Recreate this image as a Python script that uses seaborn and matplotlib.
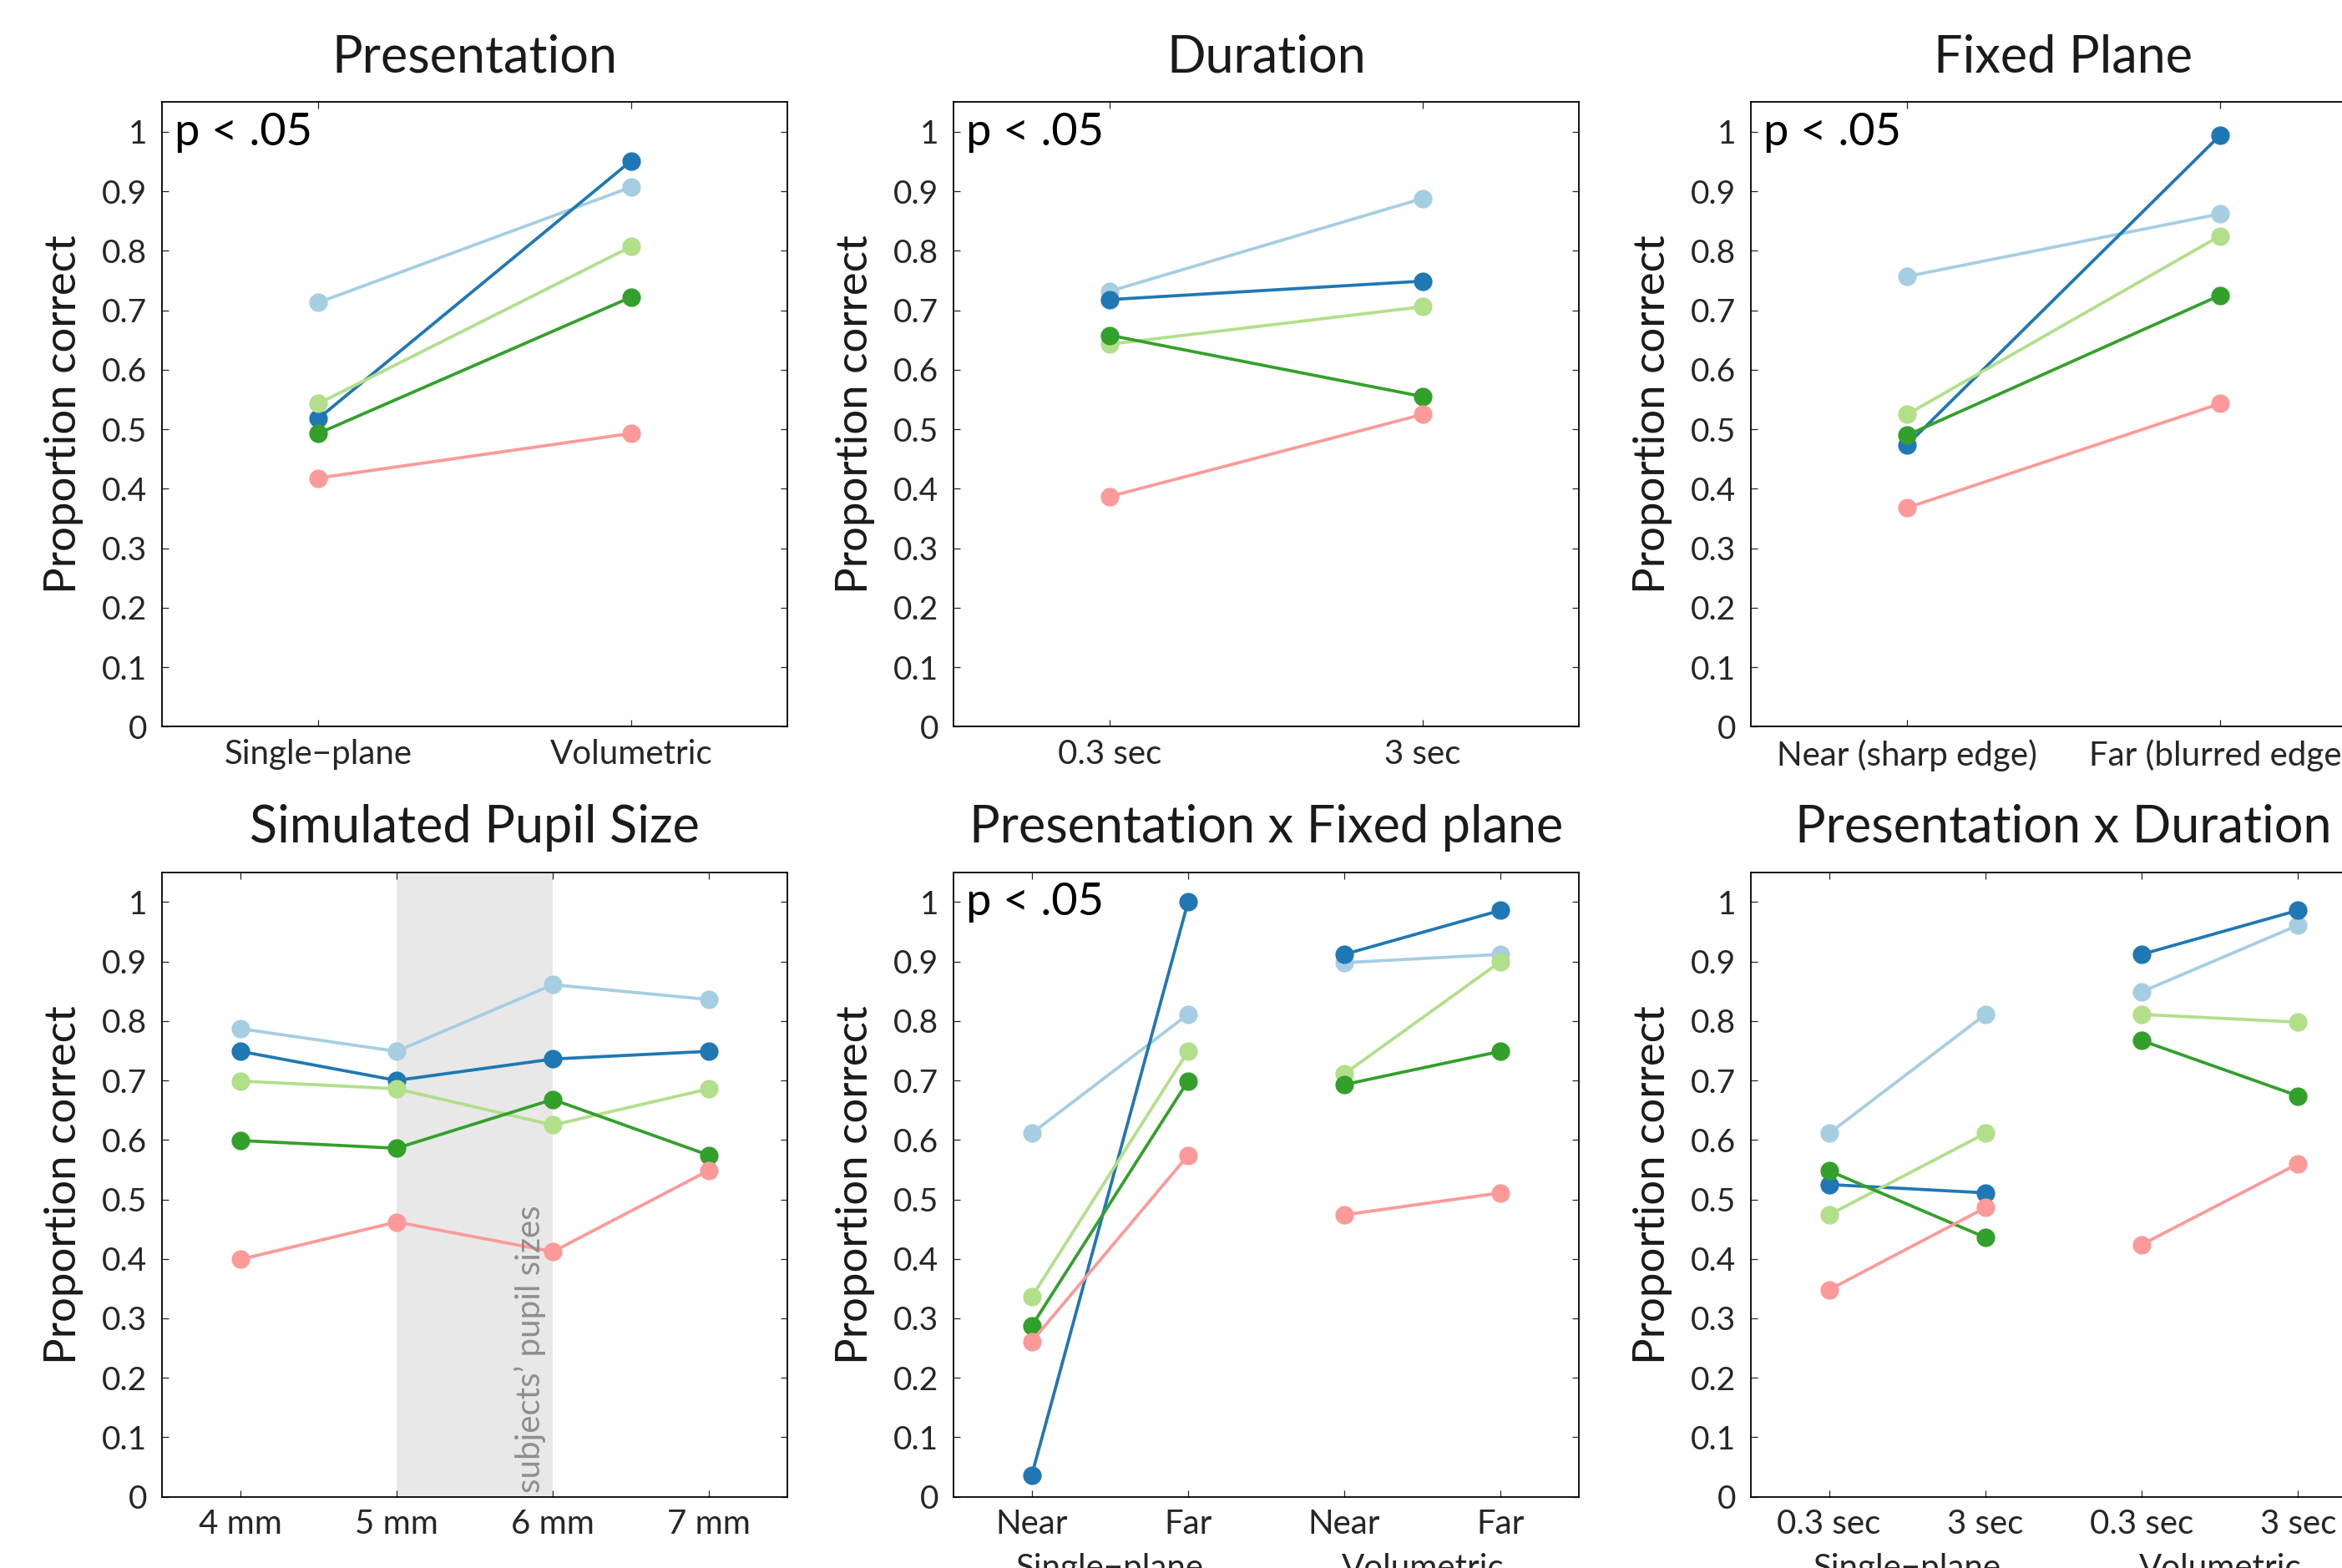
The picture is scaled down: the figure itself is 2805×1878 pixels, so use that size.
import numpy as np
import pandas as pd
import seaborn as sns
import matplotlib.pyplot as plt
from matplotlib.ticker import FuncFormatter

# five observers, drawn in this order (last one on top)
subjects = ['S1', 'S2', 'S3', 'S4', 'S5']

# --- data (rows follow `subjects`) ---
presentation_labels = ['Single\u2212plane', 'Volumetric']
presentation_scores = [[0.713, 0.907],
                       [0.518, 0.951],
                       [0.543, 0.807],
                       [0.493, 0.722],
                       [0.418, 0.493]]

duration_labels = ['0.3 sec', '3 sec']
duration_scores = [[0.732, 0.888],
                   [0.718, 0.749],
                   [0.643, 0.706],
                   [0.658, 0.555],
                   [0.387, 0.525]]

plane_labels = ['Near (sharp edge)', 'Far (blurred edge)']
plane_scores = [[0.757, 0.862],
                [0.474, 0.994],
                [0.525, 0.825],
                [0.490, 0.725],
                [0.368, 0.543]]

pupil_labels = ['4 mm', '5 mm', '6 mm', '7 mm']
pupil_scores = [[0.787, 0.749, 0.861, 0.836],
                [0.749, 0.700, 0.736, 0.749],
                [0.699, 0.686, 0.625, 0.686],
                [0.599, 0.586, 0.668, 0.574],
                [0.399, 0.462, 0.412, 0.549]]

pres_plane_labels = ['Near', 'Far', 'Near', 'Far']
pres_plane_scores = [[0.611, 0.811, 0.898, 0.912],
                     [0.036, 1.000, 0.912, 0.986],
                     [0.336, 0.749, 0.711, 0.900],
                     [0.287, 0.699, 0.693, 0.749],
                     [0.261, 0.574, 0.474, 0.511]]

pres_dur_labels = ['0.3 sec', '3 sec', '0.3 sec', '3 sec']
pres_dur_scores = [[0.611, 0.811, 0.849, 0.961],
                   [0.525, 0.511, 0.912, 0.986],
                   [0.474, 0.611, 0.811, 0.798],
                   [0.548, 0.436, 0.767, 0.674],
                   [0.348, 0.486, 0.424, 0.560]]

group_labels = ['Single\u2212plane', 'Volumetric']


def style_setup():
    sns.set_theme(style='ticks')
    plt.rcParams.update({
        'font.family': ['Lato', 'DejaVu Sans'],
        'xtick.direction': 'in', 'ytick.direction': 'in',
        'xtick.top': True, 'ytick.right': True,
        'xtick.major.size': 6, 'ytick.major.size': 6,
        'xtick.major.width': 0.9, 'ytick.major.width': 0.9,
        'xtick.major.pad': 10.5, 'ytick.major.pad': 13,
        'xtick.labelsize': 29, 'ytick.labelsize': 28,
        'xtick.color': '#262626', 'ytick.color': '#262626',
        'axes.edgecolor': 'black', 'axes.linewidth': 1.3,
        'axes.labelcolor': '#1a1a1a',
    })


def draw_panel(ax, labels, scores, title, grouped=False, sig=True):
    rows = []
    for subj, vals in zip(subjects, scores):
        for i, v in enumerate(vals):
            rows.append({'subject': subj, 'pos': i,
                         'block': i // 2 if grouped else 0, 'value': v})
    df = pd.DataFrame(rows)

    sns.lineplot(data=df, x='pos', y='value', hue='subject', units='block',
                 estimator=None, palette=sns.color_palette('Paired', 5),
                 marker='o', markersize=16, markeredgewidth=0,
                 linewidth=2.7, legend=False, ax=ax)

    ax.set_xlim(-0.5, len(labels) - 0.5)
    ax.set_ylim(0, 1.05)
    ax.set_xticks(range(len(labels)))
    ax.set_xticklabels(labels)
    ax.set_yticks(np.arange(0, 1.01, 0.1))
    ax.yaxis.set_major_formatter(FuncFormatter(lambda v, _: f'{v:g}'))
    ax.set_xlabel('')
    ax.set_ylabel('Proportion correct', fontsize=38)
    ax.yaxis.set_label_coords(-0.125, 0.5)
    ax.set_title(title, fontsize=44, color='#1a1a1a', pad=26)
    for s in ax.spines.values():
        s.set_visible(True)

    if sig:
        ax.text(0.02, 0.985, 'p < .05', transform=ax.transAxes,
                fontsize=39, color='black', ha='left', va='top')

    if grouped:
        trans = ax.get_xaxis_transform()
        for k, g in enumerate(group_labels):
            ax.text(2 * k + 0.5, -0.09, g, transform=trans, fontsize=29,
                    color='#262626', ha='center', va='top')


style_setup()
fig = plt.figure(figsize=(28.05, 18.78), dpi=100)

W, H = 749 / 2805, 748 / 1878
lefts = [194 / 2805, 1142 / 2805, 2097 / 2805]
bottoms = [1 - 870.3 / 1878, 1 - 1792.7 / 1878]

ax1 = fig.add_axes([lefts[0], bottoms[0], W, H])
ax2 = fig.add_axes([lefts[1], bottoms[0], W, H])
ax3 = fig.add_axes([lefts[2], bottoms[0], W, H])
ax4 = fig.add_axes([lefts[0], bottoms[1], W, H])
ax5 = fig.add_axes([lefts[1], bottoms[1], W, H])
ax6 = fig.add_axes([lefts[2], bottoms[1], W, H])

draw_panel(ax1, presentation_labels, presentation_scores, 'Presentation')
draw_panel(ax2, duration_labels, duration_scores, 'Duration')
draw_panel(ax3, plane_labels, plane_scores, 'Fixed Plane')

# shaded band for the range of the observers' own pupils
ax4.axvspan(1, 2, color='#e8e8e8', lw=0, zorder=0)
draw_panel(ax4, pupil_labels, pupil_scores, 'Simulated Pupil Size', sig=False)
ax4.text(1.955, 0.006, 'subjects\u2019 pupil sizes', rotation=90,
         fontsize=29, color='#8f8f8f', ha='right', va='bottom')

draw_panel(ax5, pres_plane_labels, pres_plane_scores,
           'Presentation x Fixed plane', grouped=True)
draw_panel(ax6, pres_dur_labels, pres_dur_scores,
           'Presentation x Duration', grouped=True, sig=False)

fig.savefig('out.png', dpi=100)
plt.close(fig)
